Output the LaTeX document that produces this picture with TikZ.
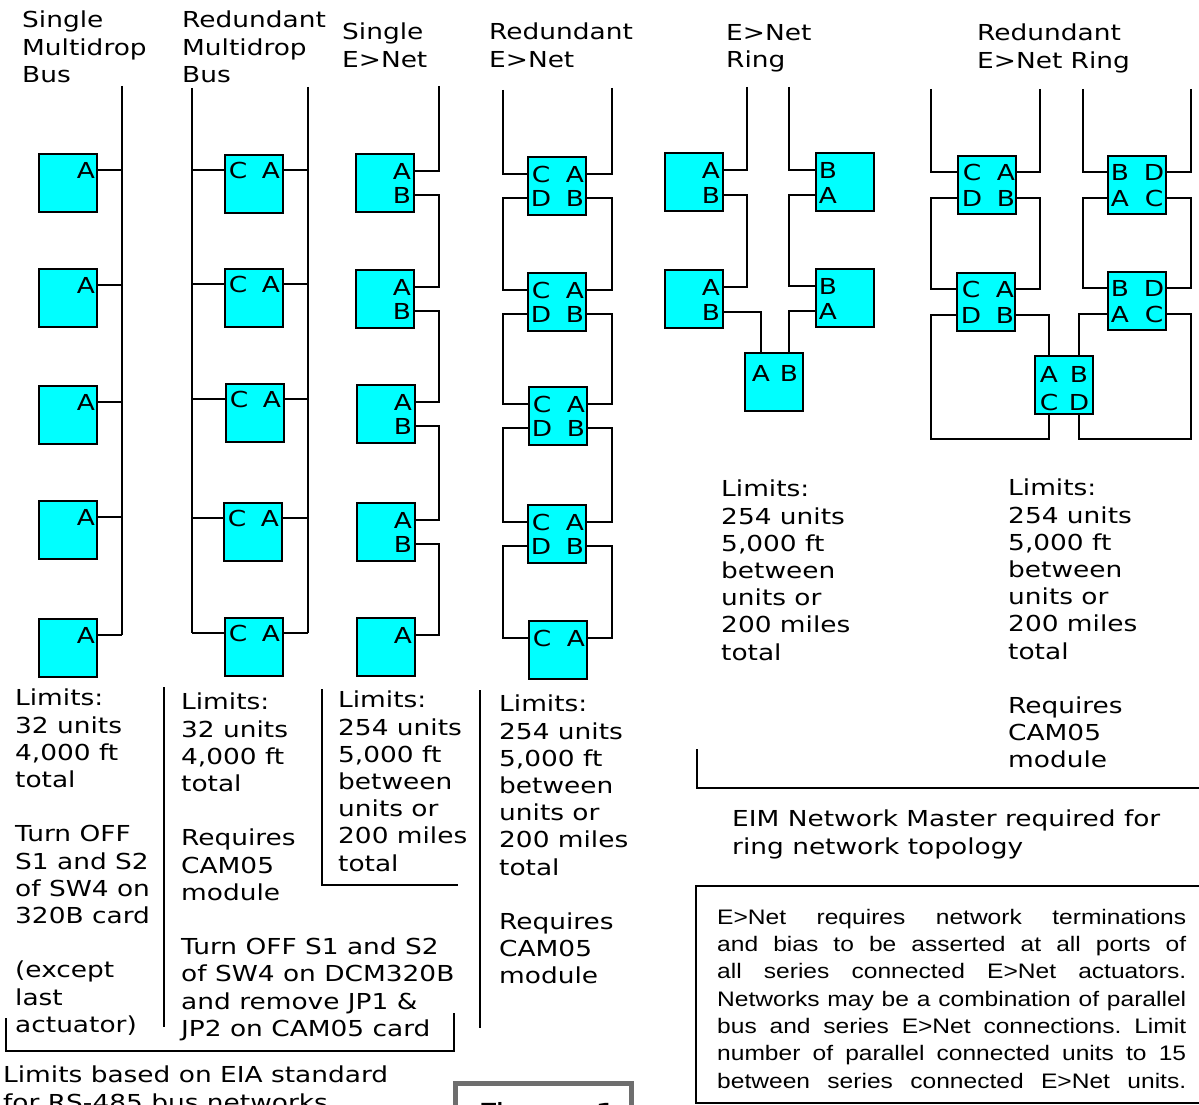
\documentclass[tikz,border=0pt]{standalone}
\usepackage{fontspec}
\setmainfont{DejaVu Sans}[FakeStretch=1.2]
\newfontfamily\arialfont{Liberation Sans}[FakeStretch=1.17]
\definecolor{boxcyan}{RGB}{0,255,255}

\begin{document}
\begin{tikzpicture}[
  x=1pt, y=-1pt,
  font=\fontsize{22}{27.2}\selectfont,
  % Actuator boxes, placed by their top left corner
  actbox/.style={draw=black, line width=2.4pt, fill=boxcyan, minimum width=58pt, minimum height=58pt, inner sep=0pt, outer sep=0pt, anchor=north west},
  % Port letter inside a box: name, x and y offset from the top left corner, letter
  tagat/.style n args={4}{label={[inner sep=0pt, name=#1, anchor=center, xshift=#2, yshift=#3]135:#4}},
  % Wiring and rules
  wire/.style={line width=2pt},
  sepline/.style={line width=2pt},
  % Text blocks
  notes/.style={anchor=north west, inner sep=0pt, align=left, execute at begin node=\strut}
]
\useasboundingbox (0,0) rectangle (1199,1105);

% Column titles
\node[notes] (t1) at (22,11) {Single\\Multidrop\\Bus};
\node[notes] (t2) at (182,11) {Redundant\\Multidrop\\Bus};
\node[notes] (t3) at (342,23) {Single\\E>Net};
\node[notes] (t4) at (489,23) {Redundant\\E>Net};
\node[notes] (t5) at (726,24) {E>Net\\Ring};
\node[notes] (t6) at (977,24) {Redundant\\E>Net Ring};

% Single multidrop bus
\node[actbox, tagat={m1A}{47pt}{-16pt}{A}] (m1) at (39,154) {};
\node[actbox, tagat={m2A}{47pt}{-16pt}{A}] (m2) at (39,269) {};
\node[actbox, tagat={m3A}{47pt}{-16pt}{A}] (m3) at (39,386) {};
\node[actbox, tagat={m4A}{47pt}{-16pt}{A}] (m4) at (39,501) {};
\node[actbox, tagat={m5A}{47pt}{-16pt}{A}] (m5) at (39,619) {};
\coordinate (mbus) at (122,86);
\draw[wire] (mbus) -- (mbus |- m5A);
\draw[wire] (m1A -| m1.east) -- (m1A -| mbus);
\draw[wire] (m2A -| m2.east) -- (m2A -| mbus);
\draw[wire] (m3A -| m3.east) -- (m3A -| mbus);
\draw[wire] (m4A -| m4.east) -- (m4A -| mbus);
\draw[wire] (m5A -| m5.east) -- (m5A -| mbus);

% Redundant multidrop bus
\node[actbox, tagat={r1C}{13pt}{-15pt}{C}, tagat={r1A}{46pt}{-15pt}{A}] (r1) at (225,155) {};
\node[actbox, tagat={r2C}{13pt}{-15pt}{C}, tagat={r2A}{46pt}{-15pt}{A}] (r2) at (225,269) {};
\node[actbox, tagat={r3C}{13pt}{-15pt}{C}, tagat={r3A}{46pt}{-15pt}{A}] (r3) at (226,384) {};
\node[actbox, tagat={r4C}{13pt}{-15pt}{C}, tagat={r4A}{46pt}{-15pt}{A}] (r4) at (224,503) {};
\node[actbox, tagat={r5C}{13pt}{-15pt}{C}, tagat={r5A}{46pt}{-15pt}{A}] (r5) at (225,618) {};
\coordinate (rbusL) at (192,88);
\coordinate (rbusR) at (308,87);
\draw[wire] (rbusL) -- (rbusL |- r5C);
\draw[wire] (rbusR) -- (rbusR |- r5A);
\draw[wire] (r1C -| r1.west) -- (r1C -| rbusL);
\draw[wire] (r2C -| r2.west) -- (r2C -| rbusL);
\draw[wire] (r3C -| r3.west) -- (r3C -| rbusL);
\draw[wire] (r4C -| r4.west) -- (r4C -| rbusL);
\draw[wire] (r5C -| r5.west) -- (r5C -| rbusL);
\draw[wire] (r1A -| r1.east) -- (r1A -| rbusR);
\draw[wire] (r2A -| r2.east) -- (r2A -| rbusR);
\draw[wire] (r3A -| r3.east) -- (r3A -| rbusR);
\draw[wire] (r4A -| r4.east) -- (r4A -| rbusR);
\draw[wire] (r5A -| r5.east) -- (r5A -| rbusR);

% Single E>Net
\node[actbox, tagat={e1A}{46pt}{-17pt}{A}, tagat={e1B}{46pt}{-41pt}{B}] (e1) at (356,154) {};
\node[actbox, tagat={e2A}{46pt}{-17pt}{A}, tagat={e2B}{46pt}{-41pt}{B}] (e2) at (356,270) {};
\node[actbox, tagat={e3A}{46pt}{-17pt}{A}, tagat={e3B}{46pt}{-41pt}{B}] (e3) at (357,385) {};
\node[actbox, tagat={e4A}{46pt}{-17pt}{A}, tagat={e4B}{46pt}{-41pt}{B}] (e4) at (357,503) {};
\node[actbox, tagat={e5A}{46pt}{-17pt}{A}] (e5) at (357,618) {};
\coordinate (etop) at (439,86);
\draw[wire] (etop) |- (e1A -| e1.east);
\draw[wire] (e1B -| e1.east) -- (e1B -| etop) |- (e2A -| e2.east);
\draw[wire] (e2B -| e2.east) -- (e2B -| etop) |- (e3A -| e3.east);
\draw[wire] (e3B -| e3.east) -- (e3B -| etop) |- (e4A -| e4.east);
\draw[wire] (e4B -| e4.east) -- (e4B -| etop) |- (e5A -| e5.east);

% Redundant E>Net
\node[actbox, tagat={d1C}{13pt}{-17pt}{C}, tagat={d1A}{47pt}{-17pt}{A}, tagat={d1D}{13pt}{-41pt}{D}, tagat={d1B}{47pt}{-41pt}{B}] (d1) at (528,157) {};
\node[actbox, tagat={d2C}{13pt}{-17pt}{C}, tagat={d2A}{47pt}{-17pt}{A}, tagat={d2D}{13pt}{-41pt}{D}, tagat={d2B}{47pt}{-41pt}{B}] (d2) at (528,273) {};
\node[actbox, tagat={d3C}{13pt}{-17pt}{C}, tagat={d3A}{47pt}{-17pt}{A}, tagat={d3D}{13pt}{-41pt}{D}, tagat={d3B}{47pt}{-41pt}{B}] (d3) at (529,387) {};
\node[actbox, tagat={d4C}{13pt}{-17pt}{C}, tagat={d4A}{47pt}{-17pt}{A}, tagat={d4D}{13pt}{-41pt}{D}, tagat={d4B}{47pt}{-41pt}{B}] (d4) at (528,505) {};
\node[actbox, tagat={d5C}{13pt}{-17pt}{C}, tagat={d5A}{47pt}{-17pt}{A}] (d5) at (529,621) {};
\coordinate (dtopL) at (503,90);
\coordinate (dtopR) at (612,88);
\draw[wire] (dtopL) |- (d1C -| d1.west);
\draw[wire] (dtopR) |- (d1A -| d1.east);
\draw[wire] (d1D -| d1.west) -- (d1D -| dtopL) |- (d2C -| d2.west);
\draw[wire] (d1B -| d1.east) -- (d1B -| dtopR) |- (d2A -| d2.east);
\draw[wire] (d2D -| d2.west) -- (d2D -| dtopL) |- (d3C -| d3.west);
\draw[wire] (d2B -| d2.east) -- (d2B -| dtopR) |- (d3A -| d3.east);
\draw[wire] (d3D -| d3.west) -- (d3D -| dtopL) |- (d4C -| d4.west);
\draw[wire] (d3B -| d3.east) -- (d3B -| dtopR) |- (d4A -| d4.east);
\draw[wire] (d4D -| d4.west) -- (d4D -| dtopL) |- (d5C -| d5.west);
\draw[wire] (d4B -| d4.east) -- (d4B -| dtopR) |- (d5A -| d5.east);

% E>Net ring
\node[actbox, tagat={raA}{46pt}{-17pt}{A}, tagat={raB}{46pt}{-42pt}{B}] (ra) at (665,153) {};
\node[actbox, tagat={rbA}{46pt}{-17pt}{A}, tagat={rbB}{46pt}{-42pt}{B}] (rb) at (665,270) {};
\node[actbox, tagat={rcB}{12pt}{-17pt}{B}, tagat={rcA}{12pt}{-42pt}{A}] (rc) at (816,153) {};
\node[actbox, tagat={rdB}{12pt}{-17pt}{B}, tagat={rdA}{12pt}{-42pt}{A}] (rd) at (816,269) {};
\node[actbox, tagat={rmA}{16pt}{-20pt}{A}, tagat={rmB}{44pt}{-20pt}{B}] (rm) at (745,353) {};
\coordinate (rtopL) at (747,87);
\coordinate (rtopR) at (789,87);
\draw[wire] (rtopL) |- (raA -| ra.east);
\draw[wire] (raB -| ra.east) -- (raB -| rtopL) |- (rbA -| rb.east);
\draw[wire] (rbB -| rb.east) -| (rmA |- rm.north);
\draw[wire] (rtopR) |- (rcB -| rc.west);
\draw[wire] (rcA -| rc.west) -- (rcA -| rtopR) |- (rdB -| rd.west);
\draw[wire] (rdA -| rd.west) -| (rmB |- rm.north);

% Redundant E>Net ring
\node[actbox, tagat={qaC}{14pt}{-16pt}{C}, tagat={qaA}{48pt}{-16pt}{A}, tagat={qaD}{14pt}{-42pt}{D}, tagat={qaB}{48pt}{-42pt}{B}] (qa) at (958,156) {};
\node[actbox, tagat={qbC}{14pt}{-16pt}{C}, tagat={qbA}{48pt}{-16pt}{A}, tagat={qbD}{14pt}{-42pt}{D}, tagat={qbB}{48pt}{-42pt}{B}] (qb) at (957,273) {};
\node[actbox, tagat={qcB}{12pt}{-16pt}{B}, tagat={qcD}{46pt}{-16pt}{D}, tagat={qcA}{12pt}{-42pt}{A}, tagat={qcC}{46pt}{-42pt}{C}] (qc) at (1108,156) {};
\node[actbox, tagat={qdB}{12pt}{-16pt}{B}, tagat={qdD}{46pt}{-16pt}{D}, tagat={qdA}{12pt}{-42pt}{A}, tagat={qdC}{46pt}{-42pt}{C}] (qd) at (1108,272) {};
\node[actbox, tagat={qmA}{14pt}{-18pt}{A}, tagat={qmB}{44pt}{-18pt}{B}, tagat={qmC}{14pt}{-46pt}{C}, tagat={qmD}{44pt}{-46pt}{D}] (qm) at (1035,356) {};
\coordinate (qtop1) at (931,89);
\coordinate (qtop2) at (1040,89);
\coordinate (qtop3) at (1083,89);
\coordinate (qtop4) at (1191,89);
\coordinate (qlowL) at (931,439);
\coordinate (qlowR) at (1191,439);
\draw[wire] (qtop1) |- (qaC -| qa.west);
\draw[wire] (qtop2) |- (qaA -| qa.east);
\draw[wire] (qaD -| qa.west) -- (qaD -| qtop1) |- (qbC -| qb.west);
\draw[wire] (qaB -| qa.east) -- (qaB -| qtop2) |- (qbA -| qb.east);
\draw[wire] (qbD -| qb.west) -| (qlowL) -| (qmC |- qm.south);
\draw[wire] (qbB -| qb.east) -| (qmA |- qm.north);
\draw[wire] (qtop3) |- (qcB -| qc.west);
\draw[wire] (qtop4) |- (qcD -| qc.east);
\draw[wire] (qcA -| qc.west) -- (qcA -| qtop3) |- (qdB -| qd.west);
\draw[wire] (qcC -| qc.east) -- (qcC -| qtop4) |- (qdD -| qd.east);
\draw[wire] (qdA -| qd.west) -| (qmB |- qm.north);
\draw[wire] (qdC -| qd.east) -| (qlowR) -| (qmD |- qm.south);

% Limits under each topology
\node[notes] (n1) at (15,689) {Limits:\\32 units\\4,000 ft\\total\\[27.2pt]Turn OFF\\S1 and S2\\of SW4 on\\320B card\\[27.2pt](except\\last\\actuator)};
\node[notes] (n2) at (181,693) {Limits:\\32 units\\4,000 ft\\total\\[27.2pt]Requires\\CAM05\\module\\[27.2pt]Turn OFF S1 and S2\\of SW4 on DCM320B\\and remove JP1 \&\\JP2 on CAM05 card};
\node[notes] (n3) at (338,691) {Limits:\\254 units\\5,000 ft\\between\\units or\\200 miles\\total};
\node[notes] (n4) at (499,695) {Limits:\\254 units\\5,000 ft\\between\\units or\\200 miles\\total\\[27.2pt]Requires\\CAM05\\module};
\node[notes] (n5) at (721,480) {Limits:\\254 units\\5,000 ft\\between\\units or\\200 miles\\total};
\node[notes] (n6) at (1008,479) {Limits:\\254 units\\5,000 ft\\between\\units or\\200 miles\\total\\[27.2pt]Requires\\CAM05\\module};
\node[notes] (eim) at (732,810) {EIM Network Master required for\\ring network topology};
\node[notes] (eia) at (3,1066) {Limits based on EIA standard\\for RS-485 bus networks};

% Rules between the notes
\draw[sepline] (164,687) -- (164,1027);
\draw[sepline] (322,689) -- (322,885) -- (458,885);
\draw[sepline] (480,690) -- (480,1028);
\draw[sepline] (6,1018) -- (6,1051) -- (454,1051) -- (454,1013);
\draw[sepline] (697,749) -- (697,788) -- (1210,788);

% Termination note
\draw[line width=2.4pt] (696,886) rectangle (1215,1103);
\node[anchor=north west, inner sep=0pt, text width=469pt, align=justify, font=\arialfont\fontsize{21}{27.3}\selectfont\frenchspacing, execute at begin node=\strut] (enet) at (717,905)
  {\parfillskip=0pt E>Net requires network terminations\linebreak and bias to be asserted at all ports of\linebreak all series connected E>Net actuators.\linebreak Networks may be a combination of parallel\linebreak bus and series E>Net connections. Limit\linebreak number of parallel connected units to 15\linebreak between series connected E>Net units.\par};

% Figure caption
\draw[line width=5pt, draw=black!57] (455,1083) rectangle (631,1160);
\node[notes, font=\fontsize{29}{34}\selectfont] (fig) at (478,1100) {Figure 1};

\end{tikzpicture}
\end{document}
